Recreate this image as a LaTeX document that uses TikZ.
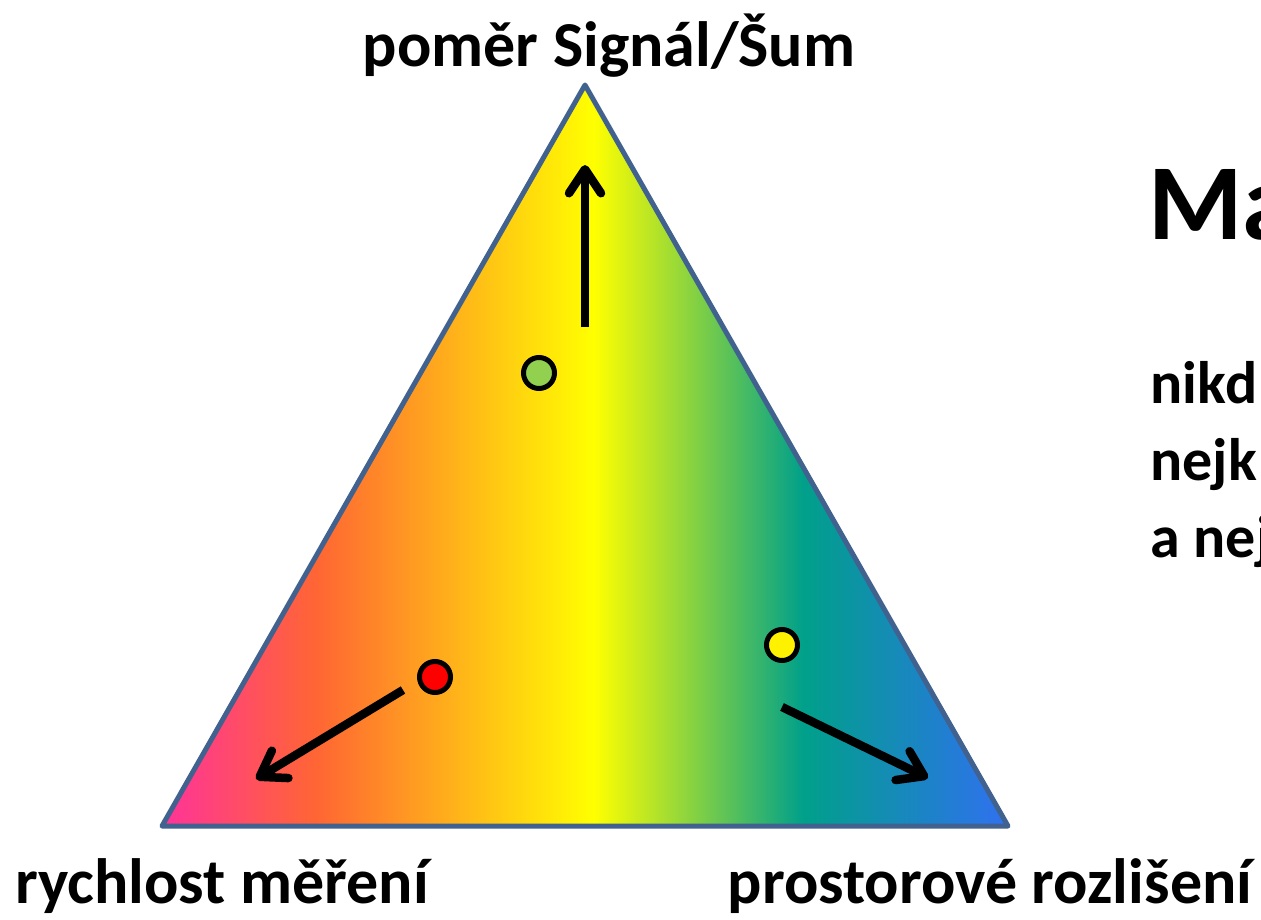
\documentclass[tikz,border=0pt]{standalone}
\usepackage{fontspec}
\setmainfont{Carlito}
\usetikzlibrary{arrows.meta}
\definecolor{tripink}{HTML}{FF3399}
\definecolor{triorange}{HTML}{FF6633}
\definecolor{triyellow}{HTML}{FFFF00}
\definecolor{triteal}{HTML}{00A08A}
\definecolor{triblue}{HTML}{3070F0}
\definecolor{triframe}{HTML}{41628F}
\definecolor{dotgreen}{HTML}{92D050}
\pgfdeclarehorizontalshading{rainbowtri}{100bp}{color(0bp)=(tripink); color(25bp)=(tripink); color(34.2bp)=(triorange); color(50.5bp)=(triyellow); color(62.9bp)=(triteal); color(75bp)=(triblue); color(100bp)=(triblue)}
\tikzset{
  triedge/.style={draw=triframe, line width=5pt, line join=round},
  dot/.style={circle, draw=black, line width=5pt, minimum size=31pt, inner sep=0pt},
  pointer/.style={line width=8.5pt, -{Straight Barb[length=24pt, width=32pt, round]}},
  cornertext/.style={anchor=base, font=\fontsize{64}{76}\selectfont\bfseries},
  sidetext/.style={anchor=base west, font=\fontsize{60}{72}\selectfont\bfseries}
}
\begin{document}
\begin{tikzpicture}[x=1pt,y=-1pt]
\useasboundingbox[fill=white] (0,0) rectangle (1261,920);
\coordinate (top) at (585,85);
\coordinate (bl) at (162,826);
\coordinate (br) at (1008,826);
\shade[shading=rainbowtri] (top)--(bl)--(br)--cycle;
\draw[triedge] (top)--(bl)--(br)--cycle;
\node[dot, fill=dotgreen] (snr) at (539,373) {};
\node[dot, fill=red] (speed) at (435,677) {};
\node[dot, fill=yellow] (res) at (782,645) {};
\coordinate (upfrom) at (585,327);
\coordinate (upto) at (585,165);
\coordinate (leftfrom) at (403,690);
\coordinate (leftto) at (256,779);
\coordinate (rightfrom) at (782,707);
\coordinate (rightto) at (928,778);
\draw[pointer] (upfrom)--(upto);
\draw[pointer] (leftfrom)--(leftto);
\draw[pointer] (rightfrom)--(rightto);
\node[cornertext] (snrlabel) at (609,67) {poměr Signál/Šum};
\node[cornertext] (speedlabel) at (222,903) {rychlost měření};
\node[cornertext] (reslabel) at (990,903) {prostorové rozlišení};
\node[sidetext, font=\fontsize{108}{120}\selectfont\bfseries] (title) at (1145,240) {Ma};
\node[sidetext] (line1) at (1147,403) {nikd};
\node[sidetext] (line2) at (1147,480) {nejk};
\node[sidetext] (line3) at (1147,557) {a nej};
\end{tikzpicture}
\end{document}
